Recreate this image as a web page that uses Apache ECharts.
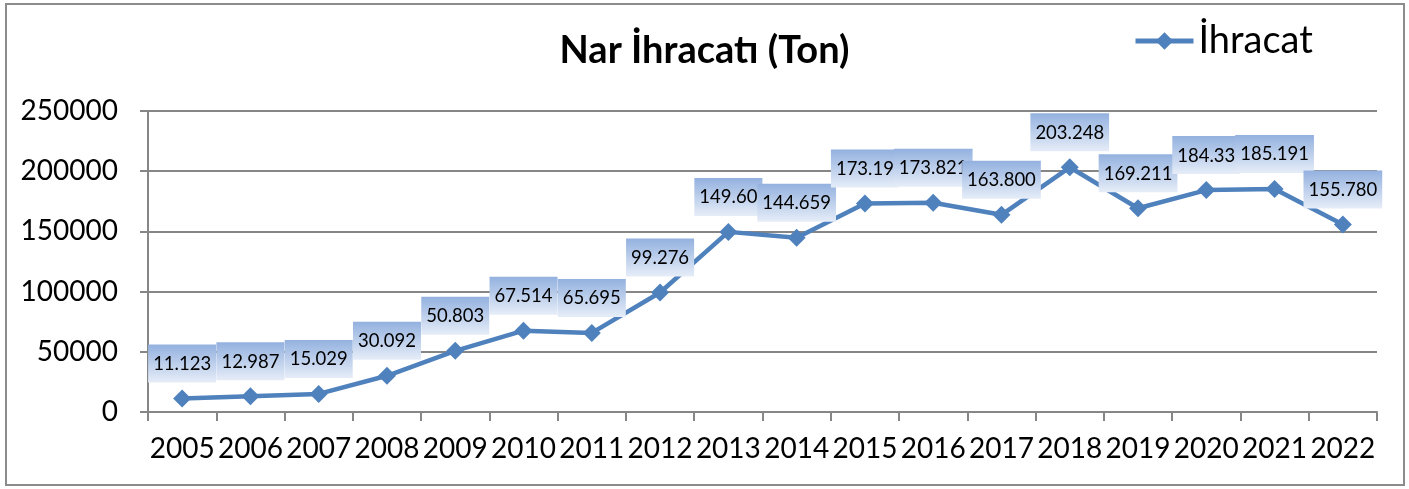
<!DOCTYPE html>
<html>
<head>
<meta charset="utf-8">
<title>Nar İhracatı</title>
<script src="https://cdn.jsdelivr.net/npm/echarts@6/dist/echarts.min.js"></script>
<style>
html, body { margin: 0; padding: 0; background: #fff; }
#frame { position: absolute; left: 5px; top: 3px; width: 1396px; height: 479px; border: 2px solid #8c8c8c; }
#chart { width: 1409px; height: 489px; }
</style>
</head>
<body>
<div id="frame"></div>
<div id="chart"></div>
<script>
// veriler
var years = ['2005', '2006', '2007', '2008', '2009', '2010', '2011', '2012', '2013',
	'2014', '2015', '2016', '2017', '2018', '2019', '2020', '2021', '2022'];
var ihracat = [11123, 12987, 15029, 30092, 50803, 67514, 65695, 99276, 149600,
	144659, 173190, 173821, 163800, 203248, 169211, 184330, 185191, 155780];
// etiket metinleri (resimde göründüğü gibi)
var labelTexts = ['11.123', '12.987', '15.029', '30.092', '50.803', '67.514', '65.695', '99.276', '149.60',
	'144.659', '173.19', '173.821', '163.800', '203.248', '169.211', '184.33', '185.191', '155.780'];
var yTicks = [0, 50000, 100000, 150000, 200000, 250000];

var chart = echarts.init(document.getElementById('chart'));
var font = 'Lato, "Open Sans", sans-serif';

var option = {
	animation: false,
	title: {
		text: 'Nar İhracatı (Ton)',
		left: 'center',
		top: 27,
		textStyle: { fontFamily: font, fontSize: 38, fontWeight: 'bold', color: '#000' }
	},
	legend: {
		data: ['İhracat'],
		left: 1128,
		top: 17,
		itemWidth: 58,
		itemHeight: 22,
		itemGap: 4,
		lineStyle: { width: 5 },
		textStyle: { fontFamily: font, fontSize: 38, color: '#000' }
	},
	grid: { left: 148, right: 32, top: 111, bottom: 77 },
	xAxis: {
		type: 'category',
		data: years,
		boundaryGap: true,
		axisLine: { lineStyle: { color: '#868686', width: 2 } },
		axisTick: { show: true, length: 9, lineStyle: { color: '#868686', width: 2 } },
		axisLabel: { fontFamily: font, fontSize: 28, color: '#000', margin: 23, interval: 0 }
	},
	yAxis: {
		type: 'value',
		min: yTicks[0],
		max: yTicks[yTicks.length - 1],
		interval: 50000,
		axisLine: { show: true, lineStyle: { color: '#868686', width: 2 } },
		axisTick: { show: true, length: 8, lineStyle: { color: '#868686', width: 2 } },
		splitLine: { lineStyle: { color: '#868686', width: 2 } },
		axisLabel: {
			fontFamily: font, fontSize: 28, color: '#000', margin: 30,
			formatter: function (v) { return String(v); }
		}
	},
	series: [{
		name: 'İhracat',
		type: 'line',
		data: ihracat,
		symbol: 'diamond',
		symbolSize: 18,
		lineStyle: { color: '#4f81bd', width: 4.5 },
		itemStyle: { color: '#4f81bd' },
		label: {
			show: true,
			position: 'top',
			distance: 7,
			fontFamily: font,
			fontSize: 18.5,
			color: '#000',
			padding: [10, 5, 9, 5],
			backgroundColor: {
				type: 'linear', x: 0, y: 0, x2: 0, y2: 1,
				colorStops: [
					{ offset: 0, color: '#93b1df' },
					{ offset: 1, color: '#e6edf8' }
				]
			},
			formatter: function (p) {
				return labelTexts[p.dataIndex];
			}
		}
	}]
};

chart.setOption(option);
</script>
</body>
</html>
